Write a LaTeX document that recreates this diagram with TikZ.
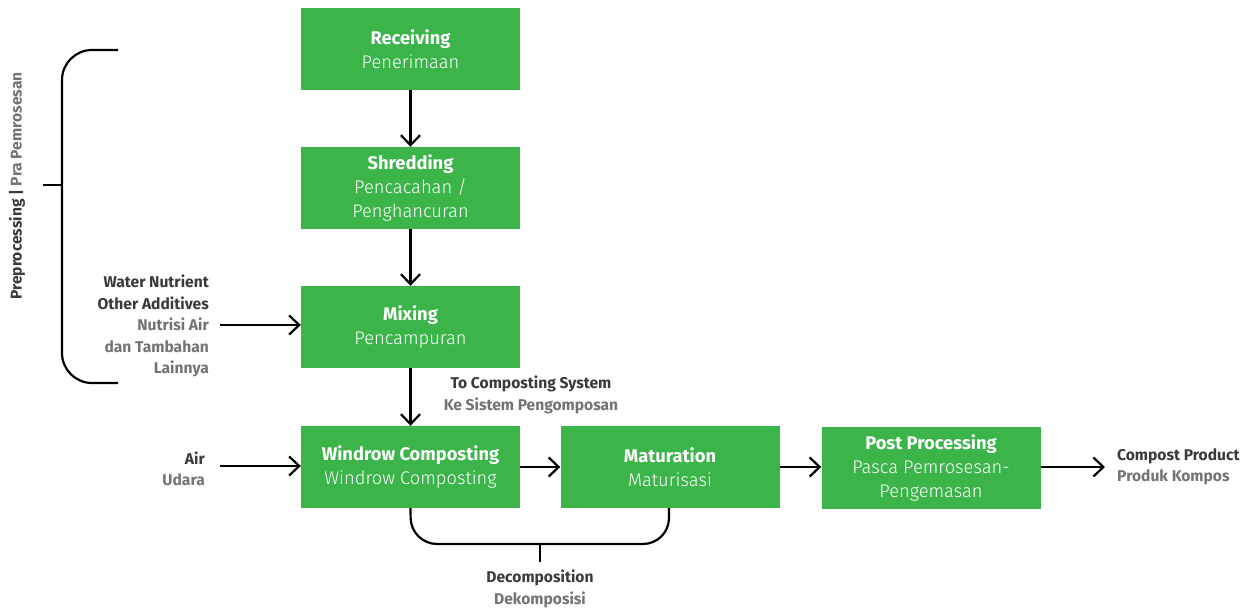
\documentclass[tikz,border=0pt]{standalone}
\usepackage{fontspec}
\setmainfont{Fira Sans}
\newfontfamily\lightfont{Fira Sans Light}
\usetikzlibrary{arrows.meta}
\definecolor{boxgreen}{HTML}{3BB54A}
\definecolor{darktxt}{HTML}{3A3A3C}
\definecolor{greytxt}{HTML}{727376}
\begin{document}
\begin{tikzpicture}[x=1pt,y=-1pt,
  stepbox/.style={fill=boxgreen,draw=none,minimum width=219pt,minimum height=82pt,inner sep=0pt,
     text=white,align=center,font=\fontsize{18.3}{24}\selectfont\lightfont},
  sidelbl/.style={font=\fontsize{15.6}{21.5}\selectfont\bfseries,inner sep=0pt},
  conn/.style={line width=2.2pt,-{Straight Barb[length=10pt,width=19pt,line width=2.2pt]}},
  plain/.style={line width=2.2pt},
  brace/.style={line width=2.2pt,rounded corners=30pt}]
\useasboundingbox (0,0) rectangle (1256,609);
\newcommand\boxtitle[1]{{\normalfont\fontsize{18.3}{24}\selectfont\bfseries #1}}

\node[stepbox] (rec) at (410.5,49) {\boxtitle{Receiving}\\Penerimaan};
\node[stepbox] (shr) at (410.5,188) {\boxtitle{Shredding}\\Pencacahan /\\Penghancuran};
\node[stepbox] (mix) at (410.5,327) {\boxtitle{Mixing}\\Pencampuran};
\node[stepbox] (win) at (410.5,467) {\boxtitle{Windrow Composting}\\Windrow Composting};
\node[stepbox] (mat) at (670,467) {\boxtitle{Maturation}\\Maturisasi};
\node[stepbox] (post) at (931,468) {\boxtitle{Post Processing}\\Pasca Pemrosesan-\\Pengemasan};

\node[sidelbl,align=right,anchor=east] (water) at (209,326) {\textcolor{darktxt}{Water Nutrient}\\\textcolor{darktxt}{Other Additives}\\\textcolor{greytxt}{Nutrisi Air}\\\textcolor{greytxt}{dan Tambahan}\\\textcolor{greytxt}{Lainnya}};
\node[sidelbl,align=right,anchor=east] (air) at (205,469) {\textcolor{darktxt}{Air}\\\textcolor{greytxt}{Udara}};
\node[sidelbl,align=center] (tocs) at (531,395) {\textcolor{darktxt}{To Composting System}\\\textcolor{greytxt}{Ke Sistem Pengomposan}};
\node[sidelbl,align=center] (dec) at (540,589) {\textcolor{darktxt}{Decomposition}\\\textcolor{greytxt}{Dekomposisi}};
\node[sidelbl,align=left,anchor=west] (prod) at (1117,467) {\textcolor{darktxt}{Compost Product}\\\textcolor{greytxt}{Produk Kompos}};
\node[sidelbl,rotate=90] (pre) at (17,186) {\textcolor{darktxt}{Preprocessing |} \textcolor{greytxt}{Pra Pemrosesan}};

\coordinate (wstart) at (220,325);
\coordinate (astart) at (220,466);
\draw[conn] (rec) -- (shr);
\draw[conn] (shr) -- (mix);
\draw[conn] (mix) -- (win);
\draw[conn] (wstart) -- (mix.west |- wstart);
\draw[conn] (astart) -- (win.west |- astart);
\draw[conn] (win) -- (mat);
\draw[conn] (mat) -- (post.west |- mat);
\coordinate (pend) at (1105,467);
\draw[conn] (post.east |- pend) -- (pend);

% preprocessing bracket
\coordinate (bt) at (118,50);
\coordinate (bb) at (118,383);
\draw[brace] (bt) -- (62,50) -- (62,383) -- (bb);
\coordinate (btick) at (43,185);
\draw[plain] (btick) -- (62,185);

% decomposition bracket
\draw[plain,rounded corners=26pt] (win.south) -- (411,544) -- (669,544) -- (mat.south -| 669,0);
\coordinate (dtick) at (540,544);
\draw[plain] (dtick) -- (540,562);
\end{tikzpicture}
\end{document}
